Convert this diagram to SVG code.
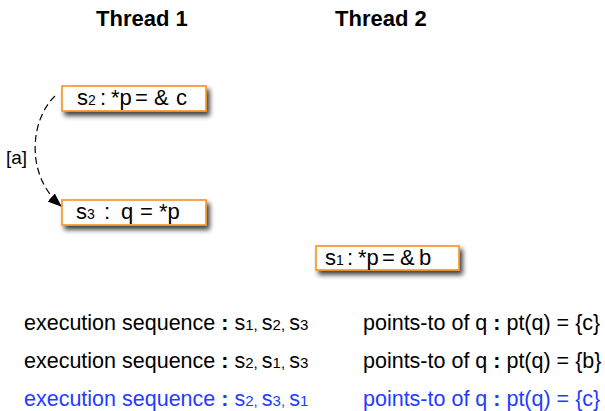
<svg xmlns="http://www.w3.org/2000/svg" width="605" height="411" viewBox="0 0 605 411">
<style>
text{font-family:"Liberation Sans",Arial,Helvetica,sans-serif;fill:#000}
.hdr{font-size:22px;font-weight:bold}
.box{fill:#fff;stroke:#f7931e;stroke-width:1.6}
.bt{font-size:22px}
.sub{font-size:14px}
.rowl{font-size:21.5px}
.rowr{font-size:21.5px}
.rs{font-size:15px}
.b{font-weight:bold}
.blue{fill:#1f3cff}
.edge{fill:none;stroke:#000;stroke-width:1.2;stroke-dasharray:7 4}
</style>
<defs>
<filter id="sh" x="-20%" y="-40%" width="140%" height="200%">
<feGaussianBlur in="SourceAlpha" stdDeviation="2.5"/>
<feOffset dx="3" dy="4" result="o"/>
<feComponentTransfer><feFuncA type="linear" slope="0.75"/></feComponentTransfer>
<feMerge><feMergeNode/><feMergeNode in="SourceGraphic"/></feMerge>
</filter>
<marker id="ah" markerWidth="14" markerHeight="11" refX="13" refY="5.5" orient="auto" markerUnits="userSpaceOnUse">
<path d="M0,0 L14,5.5 L0,11 Z" fill="#000"/>
</marker>
</defs>

<text class="hdr" x="96" y="26">Thread 1</text>
<text class="hdr" x="335" y="26">Thread 2</text>

<g id="edges">
<path class="edge" d="M55,96 C30,120 25,175 61,206" marker-end="url(#ah)"/>
<text x="6" y="164" style="font-size:19px">[a]</text>
</g>

<g id="s2">
<rect class="box" x="62" y="86" width="144" height="25" filter="url(#sh)"/>
<text class="bt" y="105"><tspan x="77">s</tspan><tspan class="sub" x="88">2</tspan><tspan x="100">:</tspan><tspan x="111">*p</tspan><tspan x="135">=</tspan><tspan x="154">&amp;</tspan><tspan x="176">c</tspan></text>
</g>

<g id="s3">
<rect class="box" x="62" y="200" width="144" height="25" filter="url(#sh)"/>
<text class="bt" y="219"><tspan x="76">s</tspan><tspan class="sub" x="87">3</tspan><tspan x="104">:</tspan><tspan x="121">q</tspan><tspan x="140">=</tspan><tspan x="159">*p</tspan></text>
</g>

<g id="s1">
<rect class="box" x="316" y="246" width="143" height="24" filter="url(#sh)"/>
<text class="bt" y="265"><tspan x="325">s</tspan><tspan class="sub" x="336">1</tspan><tspan x="347">:</tspan><tspan x="358">*p</tspan><tspan x="382">=</tspan><tspan x="400">&amp;</tspan><tspan x="419">b</tspan></text>
</g>

<g id="rows">
<text class="rowl" y="330"><tspan x="24">execution sequence </tspan><tspan class="b">:</tspan><tspan> s</tspan><tspan class="rs">1, </tspan><tspan>s</tspan><tspan class="rs">2, </tspan><tspan>s</tspan><tspan class="rs">3</tspan></text>
<text class="rowr" y="330"><tspan x="363">points-to of q </tspan><tspan class="b">:</tspan><tspan> pt(q) = {c}</tspan></text>

<text class="rowl" y="368"><tspan x="24">execution sequence </tspan><tspan class="b">:</tspan><tspan> s</tspan><tspan class="rs">2, </tspan><tspan>s</tspan><tspan class="rs">1, </tspan><tspan>s</tspan><tspan class="rs">3</tspan></text>
<text class="rowr" y="368"><tspan x="363">points-to of q </tspan><tspan class="b">:</tspan><tspan> pt(q) = {b}</tspan></text>

<text class="rowl blue" y="406"><tspan x="24">execution sequence </tspan><tspan class="b">:</tspan><tspan> s</tspan><tspan class="rs">2, </tspan><tspan>s</tspan><tspan class="rs">3, </tspan><tspan>s</tspan><tspan class="rs">1</tspan></text>
<text class="rowr blue" y="406"><tspan x="363">points-to of q </tspan><tspan class="b">:</tspan><tspan> pt(q) = {c}</tspan></text>
</g>
</svg>
